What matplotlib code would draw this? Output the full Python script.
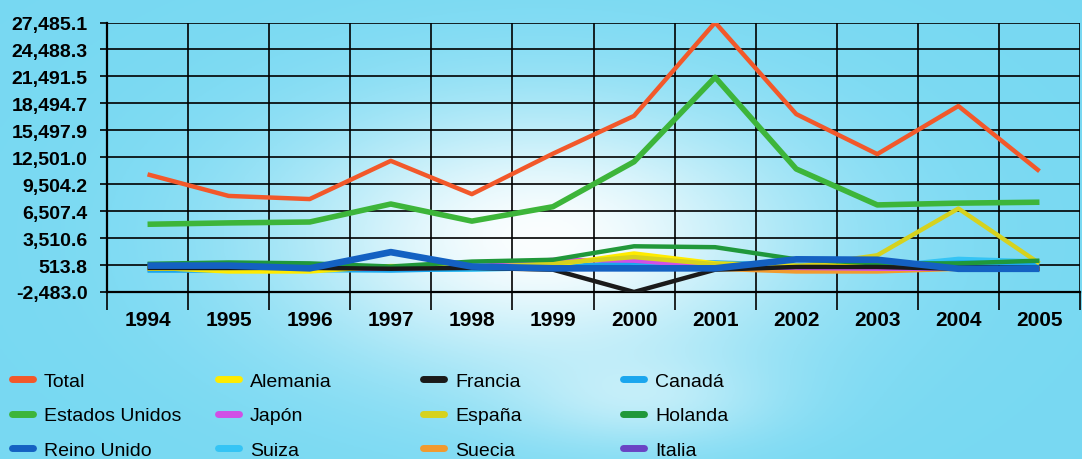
import numpy as np
import matplotlib
matplotlib.use("Agg")
import matplotlib.pyplot as plt
from matplotlib.lines import Line2D

years = ["1994", "1995", "1996", "1997", "1998", "1999", "2000", "2001", "2002", "2003", "2004", "2005"]

total          = [10600, 8200, 7850, 12100, 8400, 12900, 17100, 27485.1, 17300, 12850, 18200, 10950]
estados_unidos = [5050, 5200, 5300, 7300, 5400, 7000, 12000, 21400, 11200, 7200, 7400, 7500]
reino_unido    = [450, 450, 150, 1950, 350, 150, 150, 150, 1150, 1100, 100, 100]
alemania       = [250, -200, -200, 400, 300, 500, 1800, 700, 450, 450, 100, 100]
japon          = [100, 100, 100, 100, 300, 1100, 1000, 300, 200, 100, 100, 100]
suiza          = [0, 0, -100, 0, 0, 200, 600, 400, 300, 300, 1200, 900]
francia        = [200, 200, 200, 100, 200, 0, -2483.0, 0, 300, 300, 100, 100]
espana         = [100, 100, 300, 300, 200, 700, 1400, 600, 300, 1600, 6800, 700]
suecia         = [100, 100, 100, 100, 100, 200, 300, 100, -200, -200, 100, 100]
canada         = [-100, -100, 0, -100, 100, 300, 800, 800, 500, 400, 800, 700]
holanda        = [650, 800, 700, 350, 900, 1100, 2600, 2500, 1150, 700, 700, 1000]
italia         = [100, 100, 100, 100, 100, 100, 200, 100, 100, 100, 100, 100]

y_ticks = [-2483.0, 513.8, 3510.6, 6507.4, 9504.2, 12501.0, 15497.9, 18494.7, 21491.5, 24488.3, 27485.1]

series = {
    "Total": (total, "#F2582A", 3.2),
    "Estados Unidos": (estados_unidos, "#3DB53A", 4.0),
    "Reino Unido": (reino_unido, "#1461C2", 4.8),
    "Alemania": (alemania, "#FFEB00", 3.2),
    "Japón": (japon, "#D050E6", 3.2),
    "Suiza": (suiza, "#35C4F5", 3.2),
    "Francia": (francia, "#1A1A1A", 3.2),
    "España": (espana, "#D6D21E", 3.2),
    "Suecia": (suecia, "#F29A2E", 3.2),
    "Canadá": (canada, "#1AA6EE", 3.2),
    "Holanda": (holanda, "#20983A", 3.2),
    "Italia": (italia, "#6A44C4", 3.2),
}
draw_order = ["Italia", "Suecia", "Suiza", "Canadá", "Japón", "Alemania", "España",
              "Holanda", "Francia", "Reino Unido", "Estados Unidos", "Total"]
legend_columns = [["Total", "Estados Unidos", "Reino Unido"],
                  ["Alemania", "Japón", "Suiza"],
                  ["Francia", "España", "Suecia"],
                  ["Canadá", "Holanda", "Italia"]]
legend_x_px = [12, 218, 423, 623]

W, H = 1082, 460
fig = plt.figure(figsize=(W / 100, H / 100), dpi=100)

# background: cyan with a whitish cloud in the middle
bg = fig.add_axes([0, 0, 1, 1], zorder=-10)
gx, gy = np.meshgrid(np.linspace(0, 1, 300), np.linspace(0, 1, 200))
base = np.array([0.47, 0.85, 0.95])
w = 0.97 * np.exp(-((gx - 0.50) / 0.24) ** 2 - ((gy - 0.52) / 0.30) ** 2)
w += 0.35 * np.exp(-((gx - 0.60) / 0.12) ** 2 - ((gy - 0.88) / 0.10) ** 2)
w = np.clip(w, 0, 1)
img = base[None, None, :] * (1 - w[..., None]) + np.ones(3)[None, None, :] * w[..., None]
bg.imshow(img, extent=[0, 1, 0, 1], aspect="auto", origin="upper")
bg.axis("off")

ax = fig.add_axes([107 / W, 1 - 293 / H, (1080 - 107) / W, (293 - 23.5) / H])
ax.patch.set_alpha(0)

x = np.arange(len(years))
for name in draw_order:
    vals, col, lw = series[name]
    ax.plot(x, vals, color=col, lw=lw, solid_capstyle="butt", solid_joinstyle="round", zorder=3)

ax.set_xlim(-0.5, len(years) - 0.5)
ax.set_ylim(y_ticks[0], y_ticks[-1])
ax.set_yticks(y_ticks)
ax.set_yticklabels([f"{v:,.1f}" for v in y_ticks], fontfamily="Liberation Sans",
                   fontweight="bold", fontsize=14)
ax.set_xticks(np.arange(-0.5, len(years), 1))
ax.set_xticklabels([])
ax.set_xticks(x, minor=True)
ax.set_xticklabels(years, minor=True, fontfamily="Liberation Sans", fontweight="bold", fontsize=15)
ax.tick_params(axis="x", which="major", length=13, width=1.2, color="black", direction="out")
ax.tick_params(axis="x", which="minor", length=0, pad=13)
ax.tick_params(axis="y", length=5, width=1.2, pad=9, color="black")
ax.grid(True, which="major", color="black", lw=1.2, zorder=1)
for s in ["top", "right"]:
    ax.spines[s].set_visible(False)
for s in ["left", "bottom"]:
    ax.spines[s].set_color("black")
    ax.spines[s].set_linewidth(1.6)

for names, xp in zip(legend_columns, legend_x_px):
    handles = [Line2D([0], [0], color=series[n][1], lw=5, solid_capstyle="round") for n in names]
    leg = fig.legend(handles, names, loc="upper left", bbox_to_anchor=(xp / W, 1 - 373 / H),
                     frameon=False, prop={"family": "Liberation Sans", "size": 14},
                     handlelength=1.1, handletextpad=0.55, labelspacing=0.88,
                     borderpad=0, borderaxespad=0)

fig.savefig("out.png", dpi=100)
